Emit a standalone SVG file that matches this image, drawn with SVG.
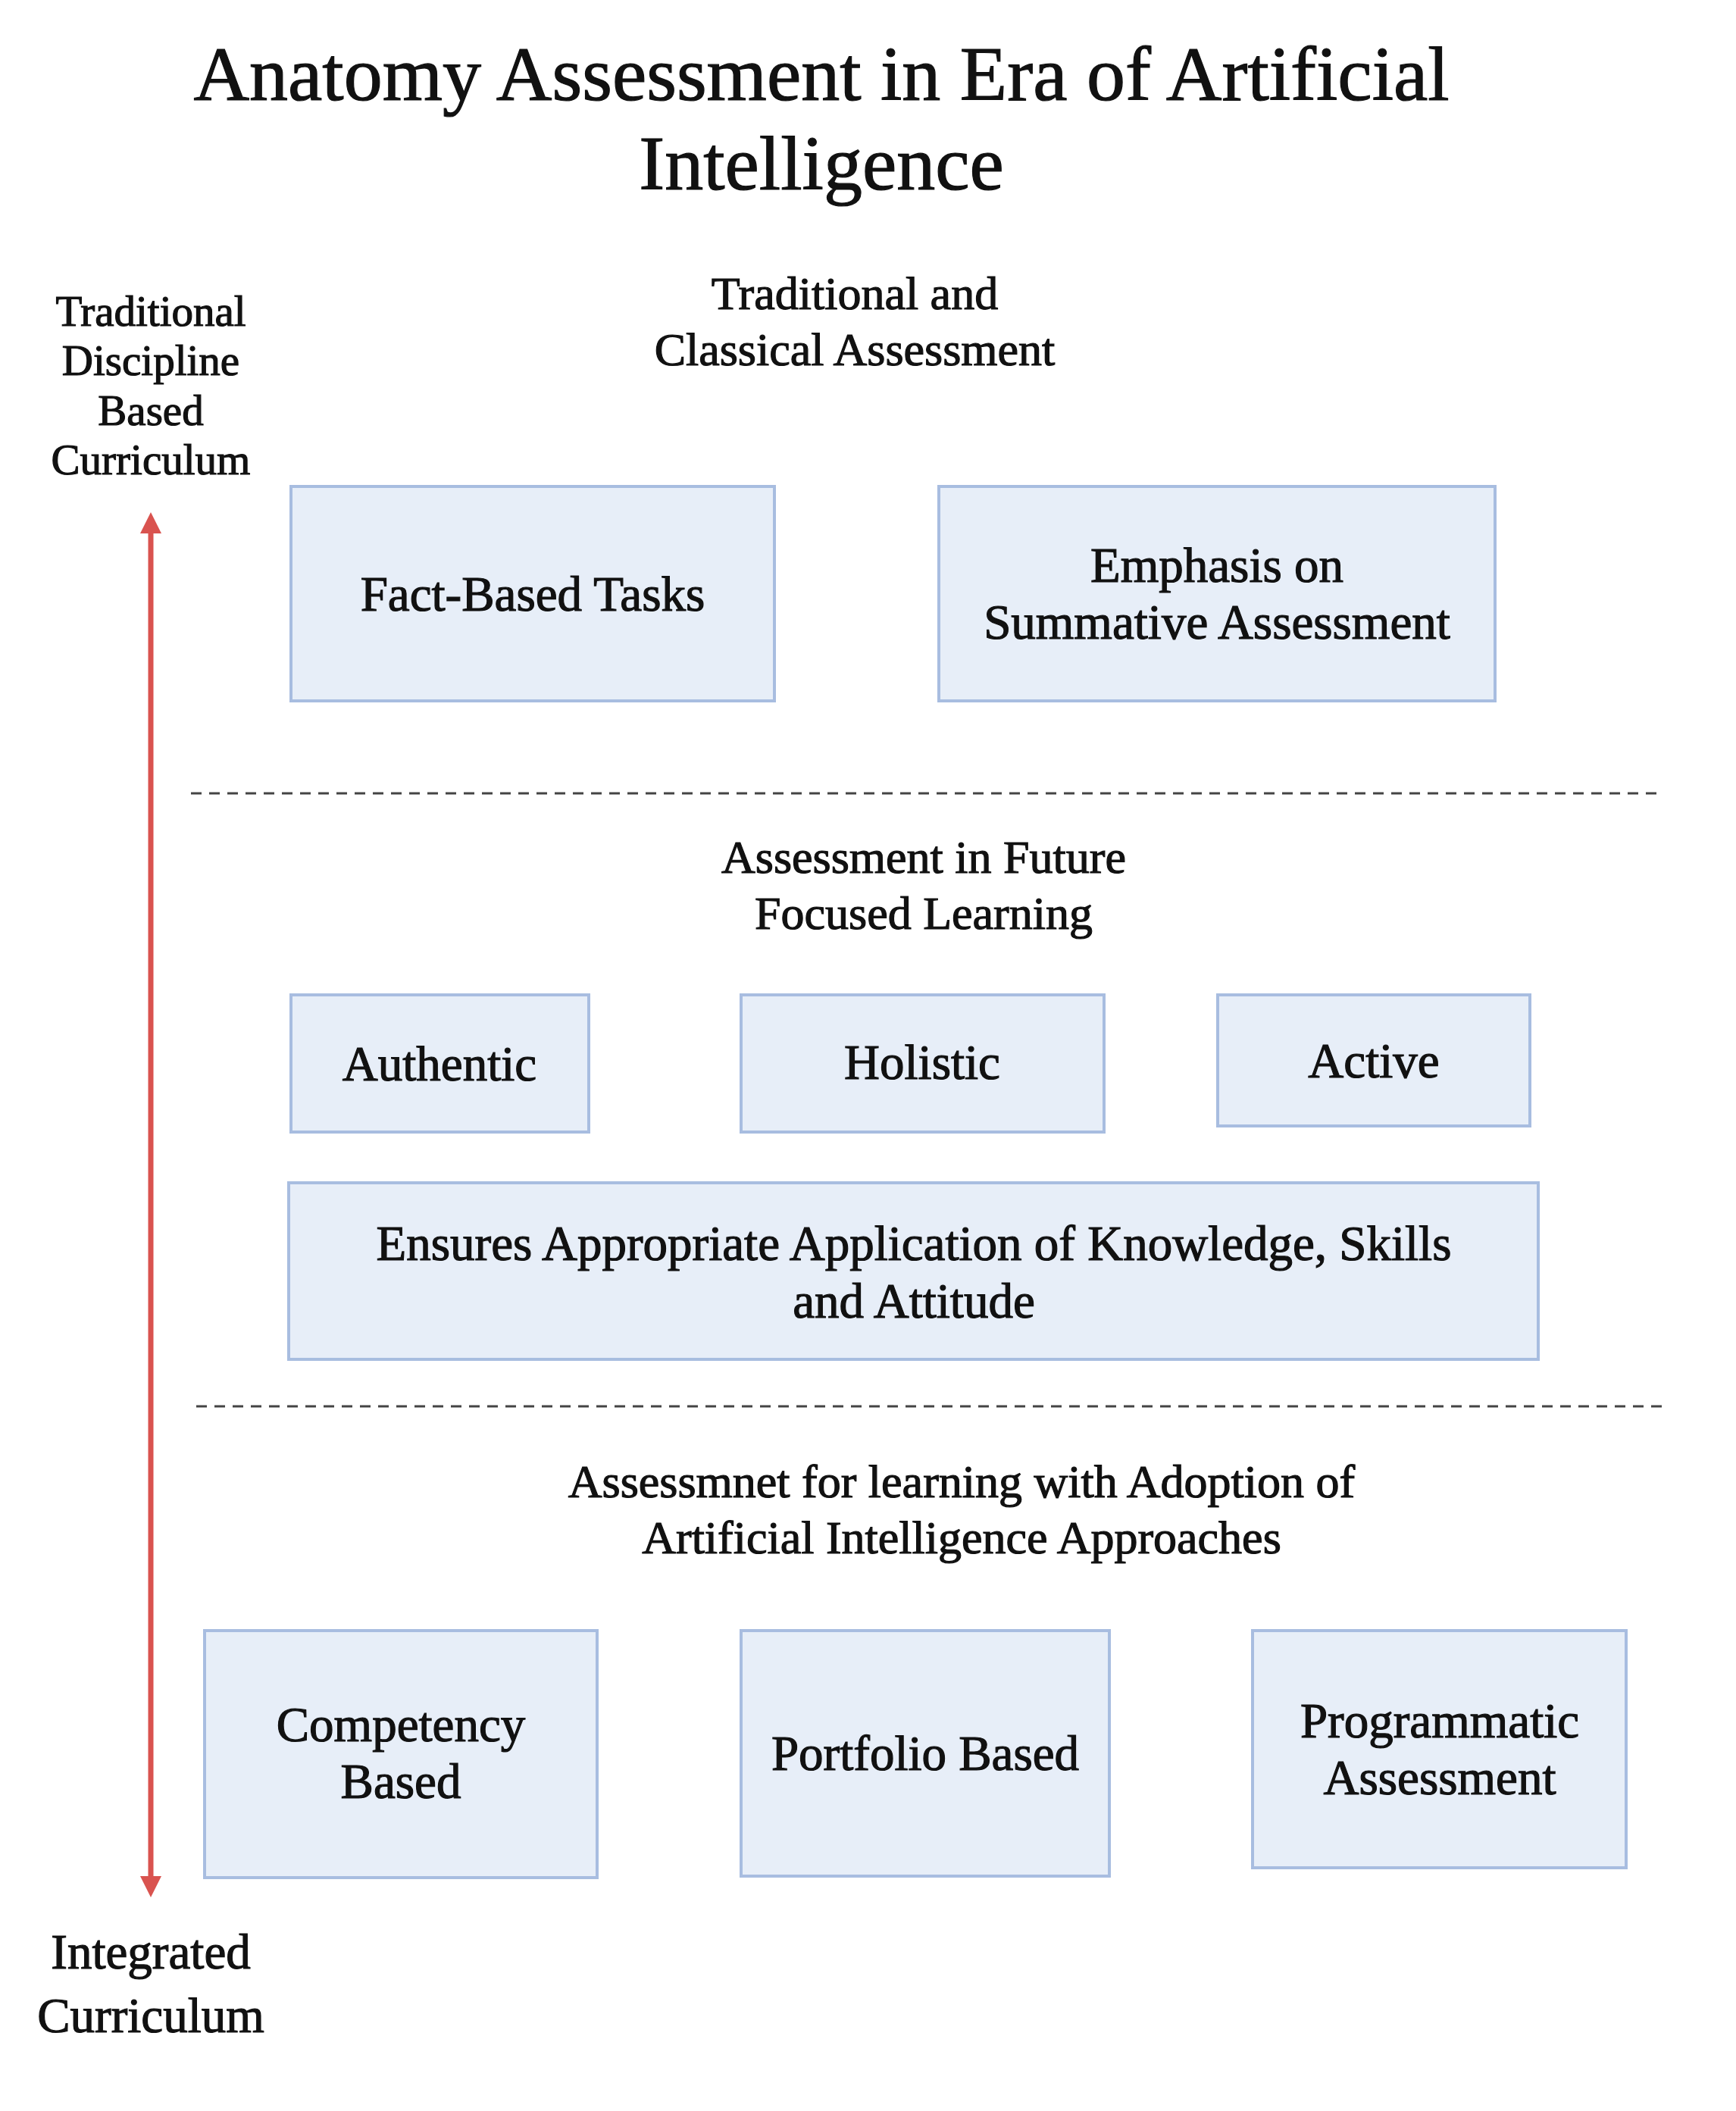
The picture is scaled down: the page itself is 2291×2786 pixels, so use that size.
<svg xmlns="http://www.w3.org/2000/svg" width="2291" height="2786" viewBox="0 0 2291 2786">
<style>
text{font-family:"Liberation Serif",serif;fill:#111;text-anchor:middle;stroke:#111;stroke-width:1.2}
.t{font-size:102px}
.h{font-size:62px}
.b{font-size:65px}
.s{font-size:57px}
rect{fill:#e7eef8;stroke:#a8bde0;stroke-width:4}
.d{stroke:#444;stroke-width:3;stroke-dasharray:14 10}
</style>
<defs><marker id="ah" viewBox="0 0 10 10" refX="5" refY="5" markerWidth="4" markerHeight="4" orient="auto-start-reverse"><path d="M0,0L10,5L0,10z" fill="#d9534f"/></marker></defs>
<rect width="2291" height="2786" style="fill:#fff;stroke:none"/>
<text class="t" x="1084" y="132">Anatomy Assessment in Era of Artificial</text>
<text class="t" x="1084" y="250">Intelligence</text>
<text class="s" x="199" y="430">Traditional</text>
<text class="s" x="199" y="495">Discipline</text>
<text class="s" x="199" y="561">Based</text>
<text class="s" x="199" y="626">Curriculum</text>
<text class="b" x="199" y="2598">Integrated</text>
<text class="b" x="199" y="2682">Curriculum</text>
<g id="connectors">
<line x1="199" y1="690" x2="199" y2="2490" stroke="#d9534f" stroke-width="7" marker-start="url(#ah)" marker-end="url(#ah)"/>
<line class="d" x1="252" y1="1047" x2="2190" y2="1047"/>
<line class="d" x1="259" y1="1856" x2="2194" y2="1856"/>
</g>
<text class="h" x="1128" y="408">Traditional and</text>
<text class="h" x="1128" y="482">Classical Assessment</text>
<g id="fact"><rect x="384" y="642" width="638" height="283"/><text class="b" x="703" y="806">Fact-Based Tasks</text></g>
<g id="emph"><rect x="1239" y="642" width="734" height="283"/><text class="b" x="1606" y="768">Emphasis on</text><text class="b" x="1606" y="843">Summative Assessment</text></g>
<text class="h" x="1219" y="1152">Assessment in Future</text>
<text class="h" x="1219" y="1226">Focused Learning</text>
<g id="authentic"><rect x="384" y="1313" width="393" height="181"/><text class="b" x="580" y="1426">Authentic</text></g>
<g id="holistic"><rect x="978" y="1313" width="479" height="181"/><text class="b" x="1217" y="1424">Holistic</text></g>
<g id="active"><rect x="1607" y="1313" width="412" height="173"/><text class="b" x="1813" y="1422">Active</text></g>
<g id="ensures"><rect x="381" y="1561" width="1649" height="233"/><text class="b" x="1206" y="1663">Ensures Appropriate Application of Knowledge, Skills</text><text class="b" x="1206" y="1739">and Attitude</text></g>
<text class="h" x="1269" y="1976">Assessmnet for learning with Adoption of</text>
<text class="h" x="1269" y="2050">Artificial Intelligence Approaches</text>
<g id="competency"><rect x="270" y="2152" width="518" height="326"/><text class="b" x="529" y="2298">Competency</text><text class="b" x="529" y="2373">Based</text></g>
<g id="portfolio"><rect x="978" y="2152" width="486" height="324"/><text class="b" x="1221" y="2336">Portfolio Based</text></g>
<g id="programmatic"><rect x="1653" y="2152" width="493" height="313"/><text class="b" x="1900" y="2293">Programmatic</text><text class="b" x="1900" y="2368">Assessment</text></g>
</svg>
